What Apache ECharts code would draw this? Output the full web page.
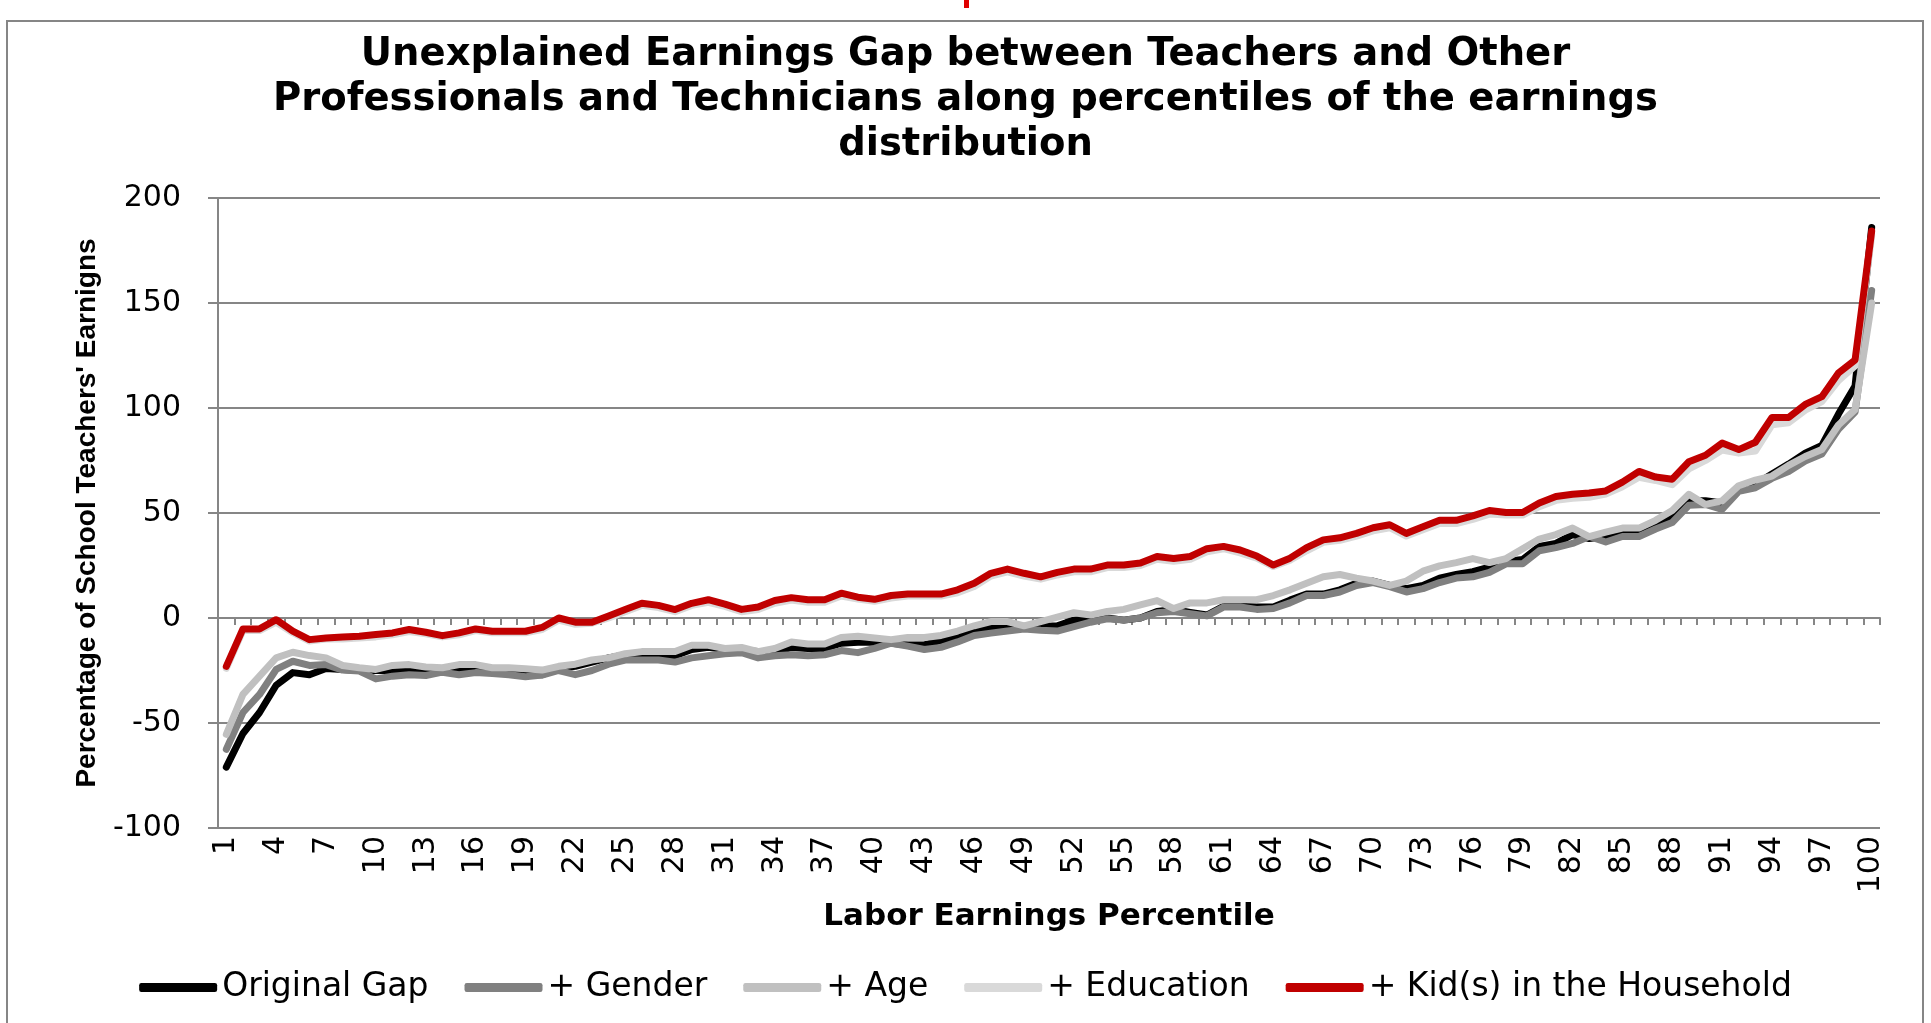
<!DOCTYPE html>
<html>
<head>
<meta charset="utf-8">
<script src="https://cdn.jsdelivr.net/npm/echarts@6/dist/echarts.min.js"></script>
<style>
html,body{margin:0;padding:0;background:#fff;}
#chart{width:1931px;height:1023px;}
</style>
</head>
<body>
<div id="chart"></div>
<script>
const percentiles = ['1','2','3','4','5','6','7','8','9','10','11','12','13','14','15','16','17','18','19','20',
'21','22','23','24','25','26','27','28','29','30','31','32','33','34','35','36','37','38','39','40',
'41','42','43','44','45','46','47','48','49','50','51','52','53','54','55','56','57','58','59','60',
'61','62','63','64','65','66','67','68','69','70','71','72','73','74','75','76','77','78','79','80',
'81','82','83','84','85','86','87','88','89','90','91','92','93','94','95','96','97','98','99','100'];

const originalGap = [-71,-55,-45,-32,-26,-27,-24,-24.5,-25,-25,-25,-24,-25,-24.5,-24,-24.5,-25,-26,-27,-27,
-24,-23,-21,-19,-17.5,-17,-17.5,-18,-15,-14,-15,-15.5,-16,-16.5,-14,-14.5,-14.5,-12,-11.6,-11.6,
-12,-12.8,-12.8,-10.7,-9.3,-6.2,-4.5,-4.1,-4.1,-4.1,-3.7,-1,0,0,-1,0,3.1,4.1,2.7,1.4,
5.6,5.6,5.2,5.2,8.5,11.4,11.4,13.4,16.5,17.6,15.5,14,15.5,19,20.7,22.1,24.2,26.9,27.9,34.1,
35.5,39.7,37.8,38.8,40.3,40.3,44.4,47.9,55.8,55.8,54.8,62,63.6,68.6,73.3,78.5,82.2,97.1,110.5,186];

const genderAdj = [-62.5,-45,-36.4,-24.5,-20.6,-22.6,-22.2,-24.8,-25.3,-29,-27.7,-27,-27.4,-25.8,-27,-26,-26.4,-27,-28,-27.2,
-25,-27,-25,-22,-20,-20,-20,-21,-19,-18,-17,-16.5,-19,-18,-17.5,-18,-17.5,-15.5,-16.5,-14.5,
-12,-13.4,-15,-14,-11.4,-8.3,-7.2,-6.2,-5.2,-5.8,-6.2,-4.1,-2,-0.4,-1,0,2.5,3.1,2,1,
5.2,5.2,4.1,4.5,7.2,10.7,10.7,12.4,15.5,16.9,14.9,12.4,14,16.9,19,19.6,21.7,25.8,25.8,32,
33.5,35.5,38.8,36.2,38.8,38.8,42.4,45.5,53.7,54.1,51.7,60.3,62,66.5,69.8,74.8,78.1,89.9,98.1,156];

const ageAdj = [-55.4,-36.4,-27.7,-19,-16.3,-17.9,-19,-22.6,-23.7,-24.5,-22.6,-22.2,-23.3,-23.7,-22.2,-22.2,-23.7,-23.7,-24.2,-24.8,
-23,-22,-20,-19,-17,-16,-16,-16,-13,-13,-14.5,-14,-16,-14.5,-11.4,-12.4,-12.4,-9.3,-8.7,-9.5,
-10.3,-9.3,-9.3,-8.3,-6.2,-3.7,-1.7,-1.7,-3.7,-1.7,0.4,2.5,1.4,3.1,4.1,6.2,8.3,4.5,7.2,7.2,
8.7,8.7,8.7,10.7,13.4,16.5,19.6,20.7,19,17.6,15.5,17.6,22.3,24.8,26.4,28.3,26.4,28.3,33,37.6,
39.7,42.8,38.8,40.9,42.8,42.8,46.5,51.2,58.9,54.1,55.8,63,65.7,67.6,72.7,76.9,80.2,91.9,99.2,150];

const educationAdj = [-24,-6,-6,-2,-7,-11,-10,-10,-9.5,-9,-8,-6.5,-7.5,-9,-8,-6,-7,-7,-7,-5.5,
-1,-3,-2.5,0,3,6,5,3,6,7.5,5.5,3,4,7,8.5,7.5,7.5,10.5,9,8,
9.5,10.5,10.5,10.5,12,15,20,22,20,18.5,20.5,22,22,24,24,25,28,27,28,31.5,
33,31,28.5,24.5,27.5,32,36,37,39,41.5,43,39,42,45,45,47,49.5,49,49,53,
56,57,57.5,59,62.5,67,65.5,63.5,71,75,80,78.5,79.5,92,93,99,103,113,120,182];

const kidsAdj = [-23,-5.2,-5.2,-0.8,-6.3,-10.3,-9.5,-9,-8.7,-7.9,-7.1,-5.5,-6.8,-8.4,-7.1,-5.2,-6.3,-6.3,-6.3,-4.5,
0,-2,-2,1,4,7,6,4,7,8.7,6.6,4.1,5.2,8.3,9.7,8.7,8.7,11.8,9.9,8.9,
10.7,11.4,11.4,11.4,13.4,16.5,21.3,23.3,21.3,19.6,21.7,23.3,23.3,25.2,25.2,26.2,29.3,28.3,29.3,33,
34.1,32.4,29.5,25.2,28.5,33.5,37.2,38.2,40.3,43,44.4,40.3,43.4,46.5,46.5,48.6,51.2,50.2,50.2,54.8,
57.9,58.9,59.5,60.5,64.7,69.8,67.1,66.1,74.4,77.5,83.3,80.2,83.7,95.5,95.5,101.7,105.4,116.7,122.9,184.3];

const seriesNames = ['Original Gap','+ Gender','+ Age','+ Education','+ Kid(s) in the Household'];
const seriesColors = ['#000000','#808080','#c0c0c0','#d9d9d9','#c00000'];
const seriesValues = [originalGap, genderAdj, ageAdj, educationAdj, kidsAdj];

const yMin = -100, yMax = 200, yStep = 50;

const gridColor = '#868686';
const chart = echarts.init(document.getElementById('chart'), null, {renderer:'canvas'});

const series = seriesNames.map((n,i)=>({
  name:n, type:'line', data:seriesValues[i], color:seriesColors[i],
  xAxisIndex:0, yAxisIndex:0, symbol:'none', showSymbol:false,
  lineStyle:{width:7, color:seriesColors[i], cap:'round', join:'round'},
  z:2+i, animation:false
}));

chart.setOption({
  animation:false,
  backgroundColor:'#ffffff',
  title:{
    text:'Unexplained Earnings Gap between Teachers and Other\nProfessionals and Technicians along percentiles of the earnings\ndistribution',
    left:'center', top:27,
    textStyle:{fontFamily:'DejaVu Sans', fontWeight:'bold', fontSize:38.5, lineHeight:45, color:'#000'}
  },
  grid:{left:218, right:51, top:198, bottom:195, containLabel:false},
  legend:{
    data:seriesNames, top:966, left:'center',
    icon:'roundRect', itemWidth:78, itemHeight:9, itemGap:36,
    textStyle:{fontFamily:'DejaVu Sans', fontSize:33, color:'#000'}
  },
  xAxis:[
    {
      type:'category', data:percentiles, boundaryGap:true, position:'bottom',
      axisLine:{show:false, onZero:false}, axisTick:{show:false},
      axisLabel:{interval:2, rotate:90, fontFamily:'DejaVu Sans', fontSize:30, color:'#000', margin:8},
      splitLine:{show:false},
      name:'Labor Earnings Percentile', nameLocation:'middle', nameGap:72,
      nameTextStyle:{fontFamily:'DejaVu Sans', fontWeight:'bold', fontSize:31, color:'#000'}
    },
    {
      type:'category', data:percentiles, boundaryGap:true, position:'top',
      axisLine:{show:true, onZero:true, onZeroAxisIndex:0, lineStyle:{color:gridColor, width:2}},
      axisTick:{show:true, interval:0, inside:true, length:7, lineStyle:{color:gridColor, width:2}},
      axisLabel:{show:false}, splitLine:{show:false}
    }
  ],
  yAxis:{
    type:'value', min:yMin, max:yMax, interval:yStep,
    axisLine:{show:true, lineStyle:{color:gridColor, width:2}},
    axisTick:{show:true, length:10, lineStyle:{color:gridColor, width:2}},
    axisLabel:{fontFamily:'DejaVu Sans', fontSize:30, color:'#000', margin:37},
    splitLine:{show:true, lineStyle:{color:gridColor, width:2}},
    name:"Percentage of School Teachers' Earnigns", nameLocation:'middle', nameRotate:90, nameGap:117,
    nameTextStyle:{fontFamily:'Liberation Sans', fontWeight:'bold', fontSize:28, color:'#000'}
  },
  graphic:[
    {type:'rect', shape:{x:7, y:21, width:1916, height:1040}, style:{fill:'none', stroke:'#868686', lineWidth:2}, silent:true, z:-1},
    {type:'rect', shape:{x:964, y:0, width:5, height:8}, style:{fill:'#e00000'}, silent:true}
  ],
  series:series
});
</script>
</body>
</html>
